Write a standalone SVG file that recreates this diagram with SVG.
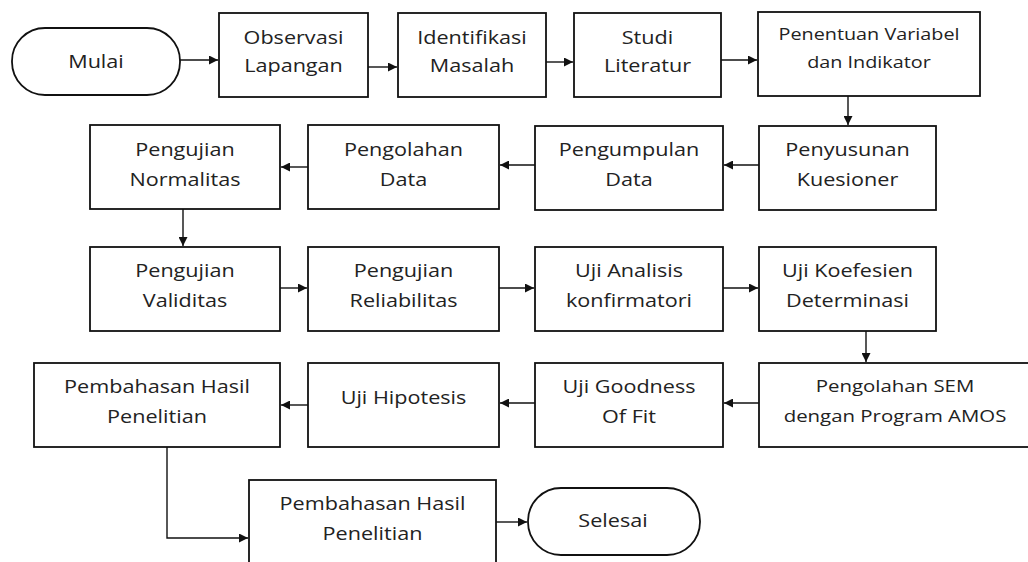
<svg xmlns="http://www.w3.org/2000/svg" width="1028" height="562" viewBox="0 0 1028 562">
<style>
.box{fill:#fff;stroke:#111;stroke-width:1.8}
.t{font-family:"Open Sans","Noto Sans","Liberation Sans",sans-serif;font-size:18px;fill:#222;text-anchor:middle}
.s{font-size:16.5px}
.c{fill:none;stroke:#111;stroke-width:1.4}
</style>
<defs>
<marker id="ah" viewBox="0 0 10 10" refX="10" refY="5" markerWidth="10" markerHeight="9" markerUnits="userSpaceOnUse" orient="auto">
<path d="M0,0 L10,5 L0,10 Z" fill="#111"/>
</marker>
</defs>
<rect width="1028" height="562" fill="#fff"/>
<g id="connectors">
<path class="c" d="M180,60 H218" marker-end="url(#ah)"/>
<path class="c" d="M368,67 H397" marker-end="url(#ah)"/>
<path class="c" d="M546,62 H573" marker-end="url(#ah)"/>
<path class="c" d="M721,60 H757" marker-end="url(#ah)"/>
<path class="c" d="M848,96 V125" marker-end="url(#ah)"/>
<path class="c" d="M759,165 H724" marker-end="url(#ah)"/>
<path class="c" d="M535,165 H500" marker-end="url(#ah)"/>
<path class="c" d="M308,167 H281" marker-end="url(#ah)"/>
<path class="c" d="M183,209 V246" marker-end="url(#ah)"/>
<path class="c" d="M280,288 H307" marker-end="url(#ah)"/>
<path class="c" d="M499,288 H534" marker-end="url(#ah)"/>
<path class="c" d="M723,288 H758" marker-end="url(#ah)"/>
<path class="c" d="M866,331 V362" marker-end="url(#ah)"/>
<path class="c" d="M759,403 H724" marker-end="url(#ah)"/>
<path class="c" d="M535,403 H500" marker-end="url(#ah)"/>
<path class="c" d="M308,405 H281" marker-end="url(#ah)"/>
<path class="c" d="M167,447 V538 H248" marker-end="url(#ah)"/>
<path class="c" d="M496,522 H527" marker-end="url(#ah)"/>
</g>
<g id="mulai"><rect class="box" x="12" y="28" width="168" height="67" rx="33"/><text class="t" transform="translate(96,68) scale(1.2,1)">Mulai</text></g>
<g id="observasi"><rect class="box" x="219" y="13" width="149" height="84"/><text class="t" transform="translate(293.5,44) scale(1.2,1)"><tspan x="0" y="0">Observasi</tspan><tspan x="0" y="28">Lapangan</tspan></text></g>
<g id="identifikasi"><rect class="box" x="398" y="13" width="148" height="84"/><text class="t" transform="translate(472,44) scale(1.2,1)"><tspan x="0" y="0">Identifikasi</tspan><tspan x="0" y="28">Masalah</tspan></text></g>
<g id="studi"><rect class="box" x="574" y="13" width="147" height="84"/><text class="t" transform="translate(647.5,44) scale(1.2,1)"><tspan x="0" y="0">Studi</tspan><tspan x="0" y="28">Literatur</tspan></text></g>
<g id="penentuan"><rect class="box" x="758" y="12" width="222" height="84"/><text class="t s" transform="translate(869,40) scale(1.2,1)"><tspan x="0" y="0">Penentuan Variabel</tspan><tspan x="0" y="28">dan Indikator</tspan></text></g>
<g id="normalitas"><rect class="box" x="90" y="125" width="190" height="84"/><text class="t" transform="translate(185,156) scale(1.2,1)"><tspan x="0" y="0">Pengujian</tspan><tspan x="0" y="30">Normalitas</tspan></text></g>
<g id="pengolahan"><rect class="box" x="308" y="125" width="191" height="84"/><text class="t" transform="translate(403.5,156) scale(1.2,1)"><tspan x="0" y="0">Pengolahan</tspan><tspan x="0" y="30">Data</tspan></text></g>
<g id="pengumpulan"><rect class="box" x="535" y="126" width="188" height="84"/><text class="t" transform="translate(629,156) scale(1.2,1)"><tspan x="0" y="0">Pengumpulan</tspan><tspan x="0" y="30">Data</tspan></text></g>
<g id="penyusunan"><rect class="box" x="759" y="126" width="177" height="84"/><text class="t" transform="translate(847.5,156) scale(1.2,1)"><tspan x="0" y="0">Penyusunan</tspan><tspan x="0" y="30">Kuesioner</tspan></text></g>
<g id="validitas"><rect class="box" x="90" y="247" width="190" height="84"/><text class="t" transform="translate(185,277) scale(1.2,1)"><tspan x="0" y="0">Pengujian</tspan><tspan x="0" y="30">Validitas</tspan></text></g>
<g id="reliabilitas"><rect class="box" x="308" y="247" width="191" height="84"/><text class="t" transform="translate(403.5,277) scale(1.2,1)"><tspan x="0" y="0">Pengujian</tspan><tspan x="0" y="30">Reliabilitas</tspan></text></g>
<g id="analisis"><rect class="box" x="535" y="247" width="188" height="84"/><text class="t" transform="translate(629,277) scale(1.2,1)"><tspan x="0" y="0">Uji Analisis</tspan><tspan x="0" y="30">konfirmatori</tspan></text></g>
<g id="koefesien"><rect class="box" x="759" y="247" width="177" height="84"/><text class="t" transform="translate(847.5,277) scale(1.2,1)"><tspan x="0" y="0">Uji Koefesien</tspan><tspan x="0" y="30">Determinasi</tspan></text></g>
<g id="pembahasan1"><rect class="box" x="34" y="363" width="246" height="84"/><text class="t" transform="translate(157,393) scale(1.2,1)"><tspan x="0" y="0">Pembahasan Hasil</tspan><tspan x="0" y="30">Penelitian</tspan></text></g>
<g id="hipotesis"><rect class="box" x="308" y="363" width="191" height="84"/><text class="t" transform="translate(403.5,404) scale(1.2,1)">Uji Hipotesis</text></g>
<g id="goodness"><rect class="box" x="535" y="363" width="188" height="84"/><text class="t" transform="translate(629,393) scale(1.2,1)"><tspan x="0" y="0">Uji Goodness</tspan><tspan x="0" y="30">Of Fit</tspan></text></g>
<g id="sem"><rect class="box" x="759" y="363" width="280" height="84"/><text class="t s" transform="translate(895,392) scale(1.2,1)" style="font-size:17px"><tspan x="0" y="0">Pengolahan SEM</tspan><tspan x="0" y="30">dengan Program AMOS</tspan></text></g>
<g id="pembahasan2"><rect class="box" x="249" y="480" width="247" height="100"/><text class="t" transform="translate(372.5,510) scale(1.2,1)"><tspan x="0" y="0">Pembahasan Hasil</tspan><tspan x="0" y="30">Penelitian</tspan></text></g>
<g id="selesai"><rect class="box" x="528" y="488" width="172" height="67" rx="33"/><text class="t" transform="translate(613,527) scale(1.2,1)">Selesai</text></g>
</svg>
